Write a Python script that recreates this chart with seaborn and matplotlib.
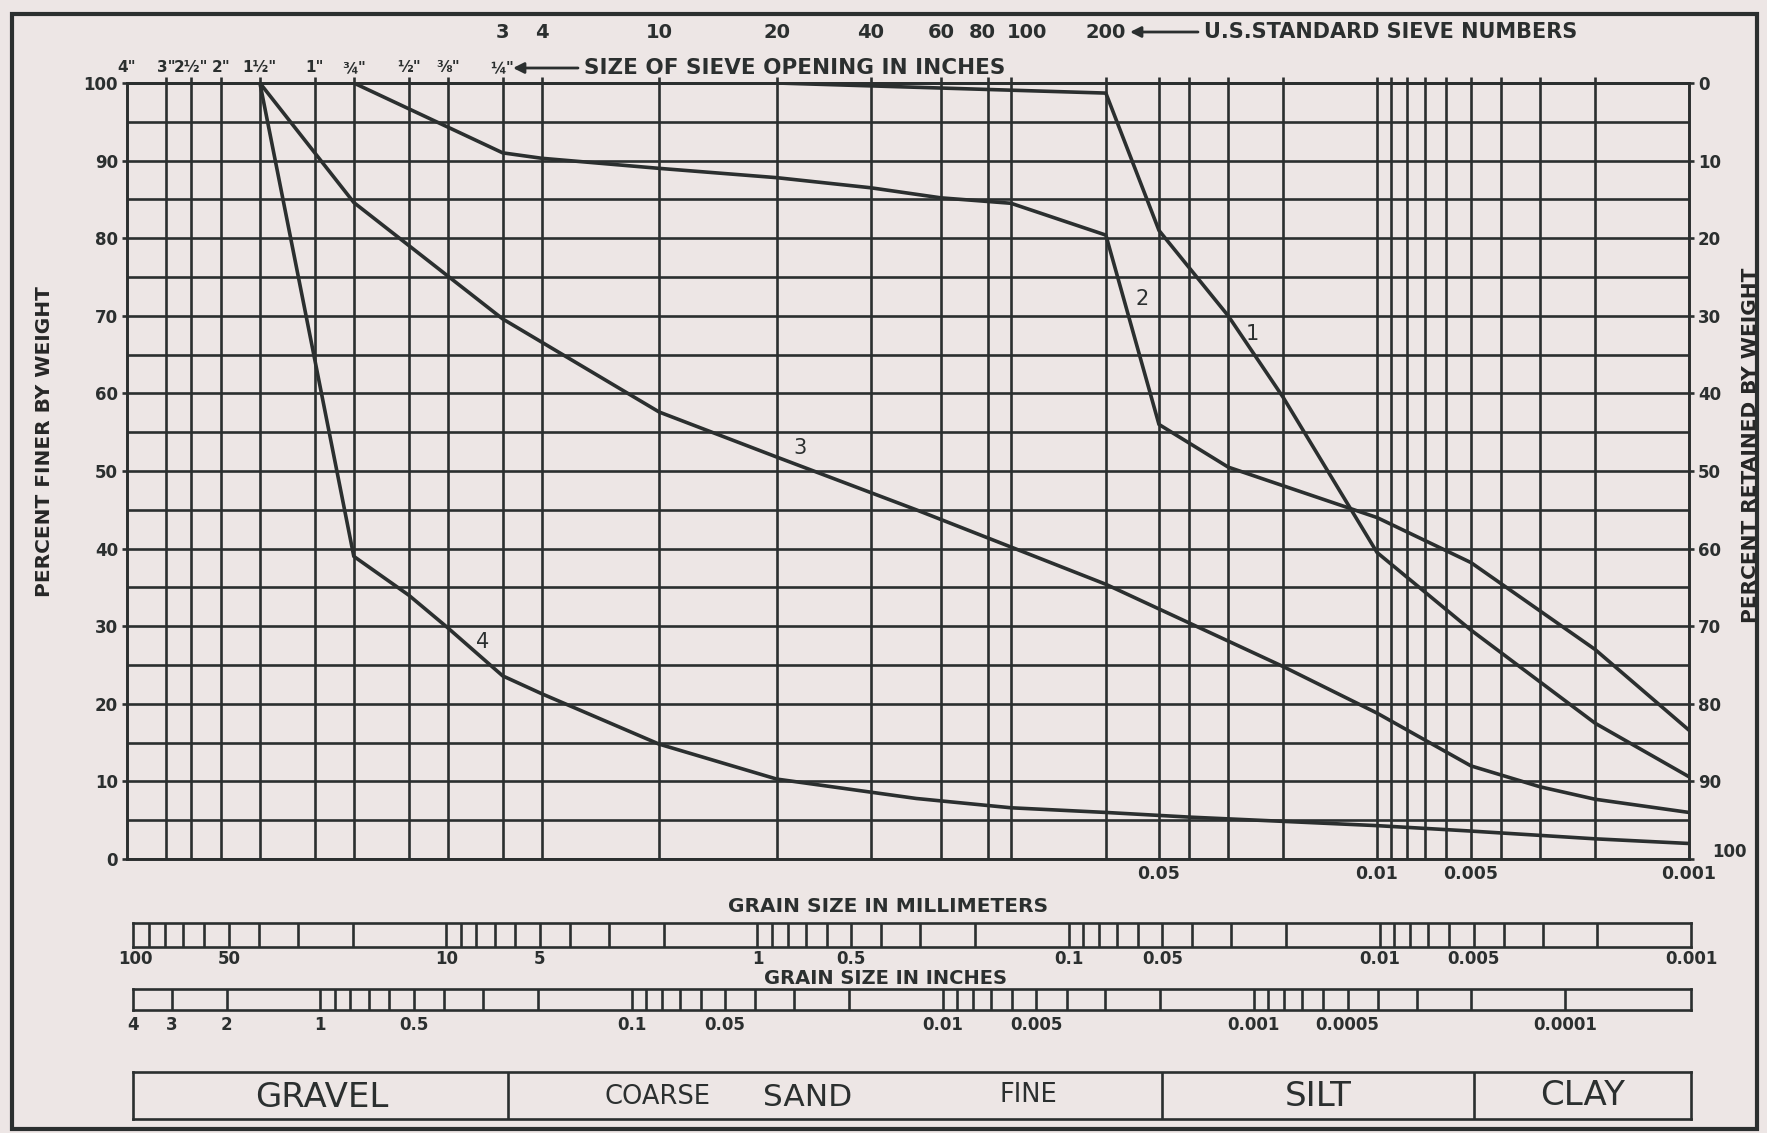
import matplotlib
matplotlib.use("Agg")
import matplotlib.pyplot as plt
from matplotlib.patches import Rectangle
from matplotlib.ticker import NullLocator
import numpy as np
import pandas as pd
import seaborn as sns

# ---------------- data (grain size in mm, percent finer by weight) ----------------
curve1_mm = [0.84, 0.074, 0.05, 0.03, 0.02, 0.01, 0.005, 0.002, 0.001]
curve1_pct = [100, 98.7, 81, 70, 59.5, 39.5, 29.5, 17.5, 10.6]

curve2_mm = [19.05, 6.35, 4.76, 2.0, 0.84, 0.42, 0.25, 0.149, 0.074, 0.05, 0.03, 0.01, 0.005, 0.002, 0.001]
curve2_pct = [100, 91, 90.3, 89, 87.8, 86.5, 85.2, 84.5, 80.4, 56, 50.5, 44, 38.2, 27, 16.6]

curve3_mm = [38.1, 19.05, 6.35, 2.0, 0.84, 0.3, 0.149, 0.074, 0.02, 0.01, 0.005, 0.003, 0.002, 0.001]
curve3_pct = [100, 84.6, 69.6, 57.6, 51.8, 45, 40.2, 35.4, 24.8, 18.8, 12, 9.3, 7.7, 6.0]

curve4_mm = [38.1, 19.05, 12.7, 9.525, 6.35, 4.76, 2.0, 0.84, 0.3, 0.149, 0.074, 0.04, 0.01, 0.005, 0.002, 0.001]
curve4_pct = [100, 39, 34, 29.8, 23.6, 21.3, 14.8, 10.3, 7.8, 6.6, 6.0, 5.4, 4.3, 3.6, 2.6, 2.0]

CURVE_NAMES = ["1", "2", "3", "4"]

# vertical rulings of the main grid (mm)
GRID_MM = [76.2, 63.5, 50.8, 38.1, 25.4, 19.05, 12.7, 9.525, 6.35, 4.76, 2.0, 0.84, 0.42,
           0.25, 0.177, 0.149, 0.074, 0.05, 0.04, 0.03, 0.02, 0.01, 0.009, 0.008, 0.007,
           0.006, 0.005, 0.004, 0.003, 0.002]
PCT_GRID = list(range(0, 101, 5))
PCT_TICKS = list(range(0, 101, 10))

INCH_OPENINGS = ['4"', '3"', '2½"', '2"', '1½"', '1"', '¾"', '½"', '⅜"', '¼"']
INCH_OPENINGS_MM = [101.6, 76.2, 63.5, 50.8, 38.1, 25.4, 19.05, 12.7, 9.525, 6.35]
SIEVE_NUMBERS = ["3", "4", "10", "20", "40", "60", "80", "100", "200"]
SIEVE_MM = [6.35, 4.76, 2.0, 0.84, 0.42, 0.25, 0.177, 0.149, 0.074]

MAIN_XTICKS = [0.05, 0.01, 0.005, 0.001]
MAIN_XTICKLABELS = ["0.05", "0.01", "0.005", "0.001"]

MM_BAR_LABELS = ["100", "50", "10", "5", "1", "0.5", "0.1", "0.05", "0.01", "0.005", "0.001"]
MM_BAR_LABEL_VALUES = [100, 50, 10, 5, 1, 0.5, 0.1, 0.05, 0.01, 0.005, 0.001]
INCH_BAR_LABELS = ["4", "3", "2", "1", "0.5", "0.1", "0.05", "0.01", "0.005", "0.001", "0.0005", "0.0001"]
INCH_BAR_LABEL_VALUES = [4, 3, 2, 1, 0.5, 0.1, 0.05, 0.01, 0.005, 0.001, 0.0005, 0.0001]

CLASS_BOUNDS_MM = [6.35, 0.05, 0.005]
MM_PER_INCH = 25.4


def decade_ticks(top, bottom):
    """1-2-...-9 rulings of a log scale between top and bottom (inclusive)."""
    vals = []
    e_hi = int(np.floor(np.log10(top) + 1e-9))
    e_lo = int(np.floor(np.log10(bottom) + 1e-9))
    for e in range(e_hi, e_lo - 1, -1):
        for m in range(9, 0, -1):
            v = m * 10.0 ** e
            if bottom * 0.9999 <= v <= top * 1.0001:
                vals.append(v)
    return vals


MM_BAR_TICKS = decade_ticks(90, 0.002)          # edges (100 and 0.001) are the frame
INCH_BAR_TICKS = [3, 2] + decade_ticks(1, 0.0001)

# ---------------- style ----------------
PAPER = "#ede6e5"
INK = "#2b2f2f"
GRID_LW = 1.9
CURVE_LW = 2.6

sns.set_style("white")
plt.rcParams["font.family"] = ["DejaVu Sans"]
plt.rcParams["font.weight"] = "bold"
plt.rcParams["text.color"] = INK
plt.rcParams["axes.edgecolor"] = INK
plt.rcParams["xtick.color"] = INK
plt.rcParams["ytick.color"] = INK

W, H, DPI = 1767, 1133, 100
fig = plt.figure(figsize=(W / DPI, H / DPI), dpi=DPI, facecolor=PAPER)


def box(l, t, r, b):
    return [l / W, 1 - b / H, (r - l) / W, (b - t) / H]


L, R = 127, 1689
BL, BR = 133, 1691
XLIM = (101.6, 0.001)

ax = fig.add_axes(box(L, 83, R, 859))
ax_mm = fig.add_axes(box(BL, 923, BR, 947))
ax_in = fig.add_axes(box(BL, 989, BR, 1010))
ax_cls = fig.add_axes(box(BL, 1072, BR, 1119))

for a in (ax, ax_mm, ax_in, ax_cls):
    a.set_facecolor(PAPER)
    a.set_xscale("log")
    a.set_xlim(*XLIM)
    for s in a.spines.values():
        s.set_color(INK)
        s.set_linewidth(GRID_LW)
        s.set_visible(True)
    a.xaxis.set_minor_locator(NullLocator())

# ---------------- main chart ----------------
frames = []
for name, xs, ys in zip(CURVE_NAMES,
                        [curve1_mm, curve2_mm, curve3_mm, curve4_mm],
                        [curve1_pct, curve2_pct, curve3_pct, curve4_pct]):
    frames.append(pd.DataFrame({"size_mm": xs, "percent_finer": ys, "curve": name}))
df = pd.concat(frames, ignore_index=True)

for g in GRID_MM:
    ax.axvline(g, color=INK, lw=GRID_LW, zorder=1)
for p in PCT_GRID:
    ax.axhline(p, color=INK, lw=GRID_LW, zorder=1)

sns.lineplot(data=df, x="size_mm", y="percent_finer", units="curve", estimator=None,
             sort=False, color=INK, linewidth=CURVE_LW, legend=False, ax=ax, zorder=3)
ax.set_xlim(*XLIM)
ax.set_ylim(0, 100)
ax.set_xlabel("")

ax.set_yticks(PCT_TICKS)
ax.set_yticklabels([str(v) for v in PCT_TICKS])
ax.tick_params(axis="y", left=True, length=3.5, width=GRID_LW, pad=3, labelsize=12)
ax.set_xticks(MAIN_XTICKS)
ax.set_xticklabels(MAIN_XTICKLABELS)
ax.xaxis.set_minor_locator(NullLocator())
ax.tick_params(axis="x", bottom=True, length=0, pad=4, labelsize=12.5)

ax.set_ylabel("PERCENT FINER BY WEIGHT", fontsize=14.5, fontweight="bold",
              ha="center", va="center")
ax.yaxis.set_label_coords((45 - L) / (R - L), 1 - (442 - 83) / 776)

# little ticks above the top edge at every vertical ruling
sec = ax.secondary_xaxis("top")
sec.set_xticks(GRID_MM)
sec.xaxis.set_minor_locator(NullLocator())
sec.tick_params(axis="x", length=4, width=GRID_LW, labeltop=False, color=INK)
sec.spines["top"].set_color(INK)
sec.spines["top"].set_linewidth(GRID_LW)

ax_r = ax.twinx()
ax_r.set_ylim(100, 0)
ax_r.set_yticks(PCT_TICKS)
ax_r.set_yticklabels([str(v) if v != 100 else "" for v in PCT_TICKS])
ax_r.tick_params(axis="y", right=True, length=3.5, width=GRID_LW, pad=3, labelsize=12)
for s in ax_r.spines.values():
    s.set_color(INK)
    s.set_linewidth(GRID_LW)
ax_r.annotate("100", xy=(1, 0), xycoords="axes fraction", xytext=(23, 7),
              textcoords="offset pixels", ha="left", va="center", fontsize=12,
              annotation_clip=False)
ax_r.set_ylabel("PERCENT RETAINED BY WEIGHT", fontsize=14.5, fontweight="bold",
                ha="center", va="center", rotation=90)
ax_r.yaxis.set_label_coords((1750 - L) / (R - L), 1 - (445 - 83) / 776)

# top scales
for lab, mm in zip(INCH_OPENINGS, INCH_OPENINGS_MM):
    ax.annotate(lab, xy=(mm, 1), xycoords=("data", "axes fraction"),
                xytext=(0, 15), textcoords="offset pixels",
                ha="center", va="center", fontsize=11, annotation_clip=False)
sieve_shift = {"80": -5, "100": 16}
for lab, mm in zip(SIEVE_NUMBERS, SIEVE_MM):
    ax.annotate(lab, xy=(mm, 1), xycoords=("data", "axes fraction"),
                xytext=(sieve_shift.get(lab, 0), 51), textcoords="offset pixels",
                ha="center", va="center", fontsize=14, annotation_clip=False)

arrow_kw = dict(arrowstyle="-|>", color=INK, lw=2.0, mutation_scale=16, shrinkA=0, shrinkB=0)
ax.annotate("", xy=(513, H - 68), xycoords="figure pixels",
            xytext=(578, H - 68), textcoords="figure pixels", arrowprops=arrow_kw)
fig.text(584 / W, 1 - 68 / H, "SIZE OF SIEVE OPENING IN INCHES", ha="left", va="center",
         fontsize=15.5)
ax.annotate("", xy=(1130, H - 32), xycoords="figure pixels",
            xytext=(1198, H - 32), textcoords="figure pixels", arrowprops=arrow_kw)
fig.text(1204 / W, 1 - 32 / H, "U.S.STANDARD SIEVE NUMBERS", ha="left", va="center",
         fontsize=15)

# curve numbers
for name, (xm, yp) in zip(CURVE_NAMES, [(0.0251, 67.6), (0.0566, 72.2), (0.705, 53.0), (7.38, 27.9)]):
    ax.text(xm, yp, name, ha="center", va="center", fontsize=15, fontweight="normal", zorder=4)

# ---------------- grain-size bars ----------------
ax_mm.set_ylim(0, 1)
ax_mm.vlines(MM_BAR_TICKS, 0, 1, color=INK, lw=GRID_LW)
ax_mm.set_yticks([])
ax_mm.set_xticks(MM_BAR_LABEL_VALUES)
ax_mm.set_xticklabels(MM_BAR_LABELS)
ax_mm.xaxis.set_minor_locator(NullLocator())
ax_mm.tick_params(axis="x", length=0, pad=2, labelsize=12)

ax_in.set_ylim(0, 1)
ax_in.vlines([v * MM_PER_INCH for v in INCH_BAR_TICKS], 0, 1, color=INK, lw=GRID_LW)
ax_in.set_yticks([])
ax_in.set_xticks([v * MM_PER_INCH for v in INCH_BAR_LABEL_VALUES])
ax_in.set_xticklabels(INCH_BAR_LABELS)
ax_in.xaxis.set_minor_locator(NullLocator())
ax_in.tick_params(axis="x", length=0, pad=4, labelsize=12)

fig.text(888 / W, 1 - 907 / H, "GRAIN SIZE IN MILLIMETERS", ha="center", va="center", fontsize=14.5)
fig.text(886 / W, 1 - 979 / H, "GRAIN SIZE IN INCHES", ha="center", va="center", fontsize=14)

# ---------------- soil classification bar ----------------
ax_cls.set_ylim(0, 1)
ax_cls.vlines(CLASS_BOUNDS_MM, 0, 1, color=INK, lw=GRID_LW)
ax_cls.set_xticks([])
ax_cls.set_yticks([])
gm = lambda a, b: np.sqrt(a * b)
ax_cls.text(gm(100, CLASS_BOUNDS_MM[0]), 0.45, "GRAVEL", ha="center", va="center", fontsize=24.5, fontweight="normal")
ax_cls.text(2.09, 0.47, "COARSE", ha="center", va="center", fontsize=18.5, fontweight="normal")
ax_cls.text(0.69, 0.45, "SAND", ha="center", va="center", fontsize=22.5, fontweight="normal")
ax_cls.text(0.135, 0.5, "FINE", ha="center", va="center", fontsize=18.5, fontweight="normal")
ax_cls.text(gm(CLASS_BOUNDS_MM[1], CLASS_BOUNDS_MM[2]), 0.47, "SILT", ha="center", va="center", fontsize=24.5, fontweight="normal")
ax_cls.text(gm(CLASS_BOUNDS_MM[2], 0.001), 0.5, "CLAY", ha="center", va="center", fontsize=24.5, fontweight="normal")

# outer drawn frame
fig.add_artist(Rectangle((12 / W, 1 - 1129 / H), (1757 - 12) / W, (1129 - 14) / H,
                         transform=fig.transFigure, fill=False, ec=INK, lw=3.0))

fig.savefig("out.png", dpi=DPI, facecolor=PAPER)
